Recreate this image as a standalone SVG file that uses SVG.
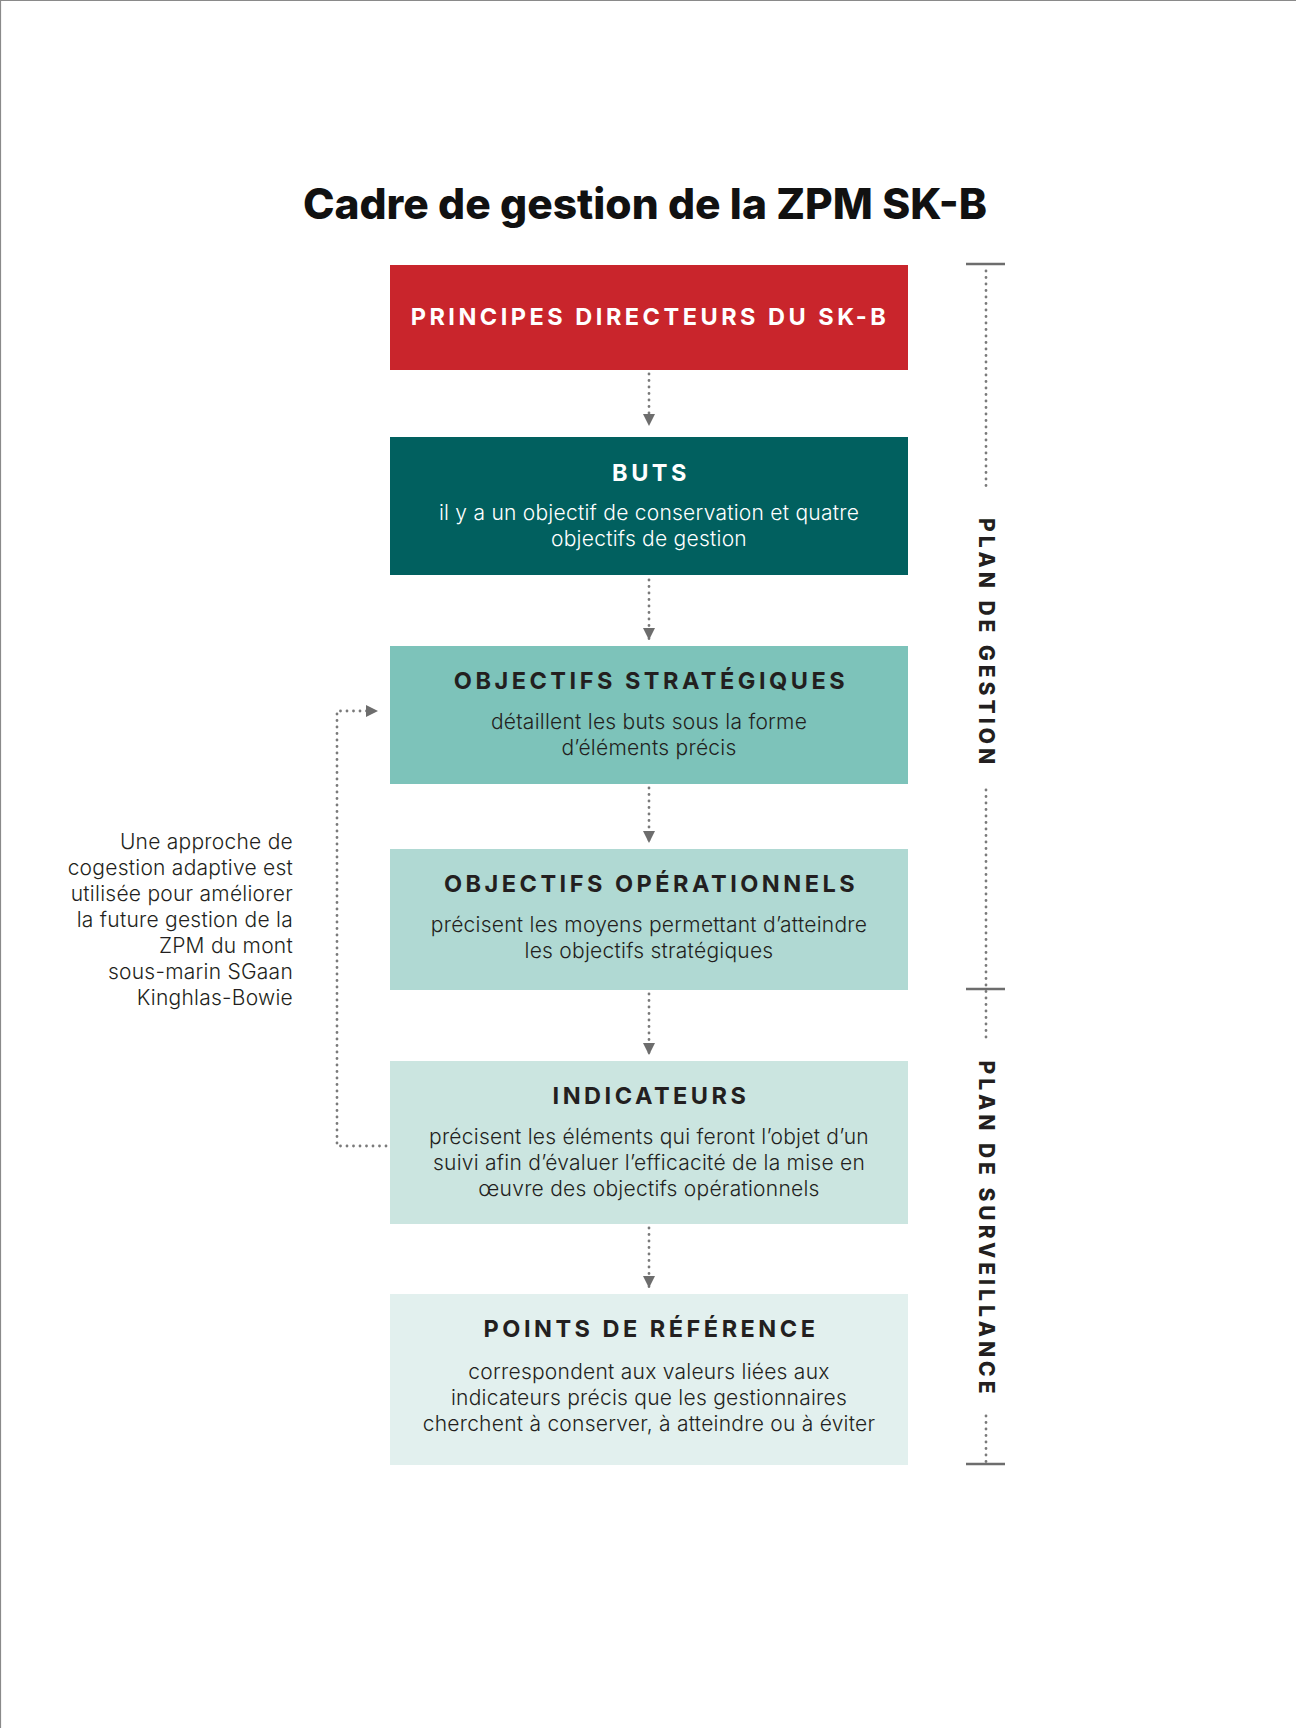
<svg xmlns="http://www.w3.org/2000/svg" width="1296" height="1728" viewBox="0 0 1296 1728">
<defs>
<style>
.title{font-family:Inter,"Liberation Sans",sans-serif;font-weight:800;font-size:42.5px;fill:#111;text-anchor:middle}
.head{font-family:Inter,"Liberation Sans",sans-serif;font-weight:750;font-size:23.5px;letter-spacing:3.5px;fill:#231F20;text-anchor:middle}
.body{font-family:Inter,"Liberation Sans",sans-serif;font-weight:300;font-size:21px;letter-spacing:0.25px;fill:#231F20;text-anchor:middle}
.side{font-family:Inter,"Liberation Sans",sans-serif;font-weight:300;font-size:21px;letter-spacing:0.25px;fill:#231F20;text-anchor:end}
.vert{font-family:Inter,"Liberation Sans",sans-serif;font-weight:800;font-size:21px;letter-spacing:4px;fill:#231F20;text-anchor:middle}
.dot{fill:none;stroke:#7a7a7a;stroke-width:2.8;stroke-linecap:round;stroke-dasharray:0 6.5}
.tick{stroke:#6d6d6d;stroke-width:2.4}
</style>
<marker id="ah" viewBox="0 0 10 10" refX="10" refY="5" markerWidth="12" markerHeight="12" markerUnits="userSpaceOnUse" orient="auto">
<path d="M0,0 L10,5 L0,10 Z" fill="#6d6d6d"/>
</marker>
</defs>
<rect width="1296" height="1728" fill="#fff"/>
<path d="M0.5,1728 V0.5 H1296" fill="none" stroke="#8a8a8a" stroke-width="1.2"/>
<text class="title" x="645" y="219">Cadre de gestion de la ZPM SK-B</text>

<g id="principes">
<rect x="390" y="265" width="518" height="105" fill="#C9252C"/>
<text class="head" x="650" y="325" style="fill:#fff">PRINCIPES DIRECTEURS DU SK-B</text>
</g>
<g id="buts">
<rect x="390" y="437" width="518" height="138" fill="#01605F"/>
<text class="head" x="651" y="481" style="fill:#fff">BUTS</text>
<text class="body" x="649" y="520" style="fill:#fff">il y a un objectif de conservation et quatre</text>
<text class="body" x="649" y="546" style="fill:#fff">objectifs de gestion</text>
</g>
<g id="strategiques">
<rect x="390" y="646" width="518" height="138" fill="#7DC3BA"/>
<text class="head" x="651" y="689">OBJECTIFS STRATÉGIQUES</text>
<text class="body" x="649" y="729">détaillent les buts sous la forme</text>
<text class="body" x="649" y="755">d’éléments précis</text>
</g>
<g id="operationnels">
<rect x="390" y="849" width="518" height="141" fill="#B0D9D3"/>
<text class="head" x="651" y="892">OBJECTIFS OPÉRATIONNELS</text>
<text class="body" x="649" y="932">précisent les moyens permettant d’atteindre</text>
<text class="body" x="649" y="958">les objectifs stratégiques</text>
</g>
<g id="indicateurs">
<rect x="390" y="1061" width="518" height="163" fill="#CBE5E0"/>
<text class="head" x="651" y="1104">INDICATEURS</text>
<text class="body" x="649" y="1144">précisent les éléments qui feront l’objet d’un</text>
<text class="body" x="649" y="1170">suivi afin d’évaluer l’efficacité de la mise en</text>
<text class="body" x="649" y="1196">œuvre des objectifs opérationnels</text>
</g>
<g id="reference">
<rect x="390" y="1294" width="518" height="171" fill="#E2F0EE"/>
<text class="head" x="651" y="1337">POINTS DE RÉFÉRENCE</text>
<text class="body" x="649" y="1379">correspondent aux valeurs liées aux</text>
<text class="body" x="649" y="1405">indicateurs précis que les gestionnaires</text>
<text class="body" x="649" y="1431">cherchent à conserver, à atteindre ou à éviter</text>
</g>

<g id="note">
<text class="side" x="293" y="849">Une approche de</text>
<text class="side" x="293" y="875">cogestion adaptive est</text>
<text class="side" x="293" y="901">utilisée pour améliorer</text>
<text class="side" x="293" y="927">la future gestion de la</text>
<text class="side" x="293" y="953">ZPM du mont</text>
<text class="side" x="293" y="979">sous-marin SGaan</text>
<text class="side" x="293" y="1005">Kinghlas-Bowie</text>
</g>

<g id="connectors">
<path class="dot" d="M649,374 V426" marker-end="url(#ah)"/>
<path class="dot" d="M649,580 V640" marker-end="url(#ah)"/>
<path class="dot" d="M649,788 V843" marker-end="url(#ah)"/>
<path class="dot" d="M649,994 V1055" marker-end="url(#ah)"/>
<path class="dot" d="M649,1228 V1288" marker-end="url(#ah)"/>
<path class="dot" d="M386,1146 H337 V711 H378" marker-end="url(#ah)"/>
</g>

<g id="bracket">
<line class="tick" x1="966" y1="264" x2="1005" y2="264"/>
<line class="tick" x1="966" y1="989" x2="1005" y2="989"/>
<line class="tick" x1="966" y1="1464" x2="1005" y2="1464"/>
<path class="dot" d="M986,271 V492"/>
<path class="dot" d="M986,790 V1040"/>
<path class="dot" d="M986,1416 V1462"/>
<text class="vert" transform="translate(979,643) rotate(90)">PLAN DE GESTION</text>
<text class="vert" transform="translate(979,1229) rotate(90)">PLAN DE SURVEILLANCE</text>
</g>
</svg>
